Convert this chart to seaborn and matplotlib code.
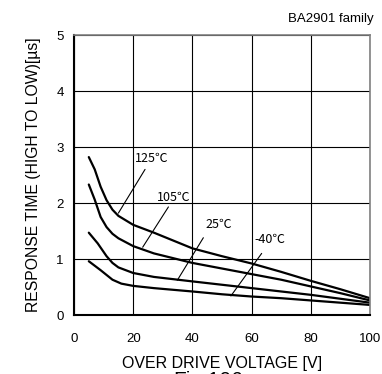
import matplotlib
matplotlib.use("Agg")
import matplotlib.pyplot as plt
import seaborn as sns
import pandas as pd

# Data
x_t125 = [5, 7, 9, 11, 13, 15, 20, 27, 40, 50, 60, 70, 80, 90, 100]
y_t125 = [2.82, 2.60, 2.29, 2.05, 1.88, 1.77, 1.61, 1.47, 1.19, 1.05, 0.92, 0.77, 0.61, 0.46, 0.30]
x_t105 = [5, 7, 9, 11, 13, 15, 20, 27, 40, 50, 60, 70, 80, 90, 100]
y_t105 = [2.33, 2.06, 1.75, 1.57, 1.45, 1.37, 1.23, 1.10, 0.93, 0.83, 0.73, 0.63, 0.51, 0.39, 0.26]
x_t25 = [5, 8, 11, 13, 15, 20, 27, 40, 50, 60, 70, 80, 90, 100]
y_t25 = [1.47, 1.28, 1.05, 0.93, 0.85, 0.75, 0.68, 0.60, 0.54, 0.48, 0.42, 0.36, 0.29, 0.22]
x_tm40 = [5, 9, 13, 16, 20, 27, 40, 50, 60, 70, 80, 90, 100]
y_tm40 = [0.96, 0.80, 0.63, 0.56, 0.52, 0.48, 0.42, 0.37, 0.33, 0.30, 0.26, 0.22, 0.18]

series_names = ["125℃", "105℃", "25℃", "-40℃"]
label_pos = [(20.6, 2.79), (27.9, 2.10), (44.5, 1.62), (61.0, 1.35)]
leader_lines = [((24.0, 2.60), (15.0, 1.82)),
                ((31.9, 1.93), (23.2, 1.21)),
                ((43.7, 1.38), (34.9, 0.62)),
                ((63.4, 1.10), (53.0, 0.34))]

x_ticks = [0, 20, 40, 60, 80, 100]
y_ticks = [0, 1, 2, 3, 4, 5]

frames = []
for name, xs, ys in zip(series_names,
                        [x_t125, x_t105, x_t25, x_tm40],
                        [y_t125, y_t105, y_t25, y_tm40]):
    frames.append(pd.DataFrame({"x": xs, "y": ys, "series": name}))
df = pd.concat(frames, ignore_index=True)

sns.set_style("white")
plt.rcParams['font.family'] = ['Liberation Sans', 'DejaVu Sans']
plt.rcParams['text.color'] = 'black'
plt.rcParams['axes.labelcolor'] = 'black'
plt.rcParams['xtick.color'] = 'black'
plt.rcParams['ytick.color'] = 'black'

fig = plt.figure(figsize=(3.82, 3.74), dpi=100)
ax = fig.add_axes([74/382, 1 - 315/374, (370-74)/382, (315-35)/374])

sns.lineplot(data=df, x="x", y="y", hue="series", palette=["black"]*4,
             legend=False, ax=ax, linewidth=1.6, sort=True)
for ln in ax.lines:
    ln.set_solid_joinstyle("round")
    ln.set_solid_capstyle("round")

ax.set_xlim(0, 100)
ax.set_ylim(0, 5)
ax.set_xticks(x_ticks)
ax.set_yticks(y_ticks)
ax.grid(True, color="black", linewidth=0.8)
ax.tick_params(axis="both", length=0, labelsize=9.5, labelcolor="black")
ax.tick_params(axis="x", pad=13)
ax.tick_params(axis="y", pad=7.5)
for s in ["left", "bottom"]:
    ax.spines[s].set_color("black")
    ax.spines[s].set_linewidth(1.5)
for s in ["top", "right"]:
    ax.spines[s].set_color("#808080")
    ax.spines[s].set_linewidth(1.2)

ax.set_xlabel("OVER DRIVE VOLTAGE [V]", fontsize=11.5, labelpad=8)
ax.set_ylabel("RESPONSE TIME (HIGH TO LOW)[µs]", fontsize=11.3, labelpad=11)

for name, (lx, ly), ((x0, y0), (x1, y1)) in zip(series_names, label_pos, leader_lines):
    ax.text(lx, ly, name, fontsize=9, ha="left", va="center",
            family=['Noto Sans CJK JP', 'DejaVu Sans'])
    ax.plot([x0, x1], [y0, y1], color="black", linewidth=0.8)

fig.text(374/382, 1 - 19/374, "BA2901 family", fontsize=9.5, ha="right", va="center")
fig.text(208/382, 1 - 371/374, "Fig.106", fontsize=15, ha="center", va="top")

fig.savefig("out.png", dpi=100)
